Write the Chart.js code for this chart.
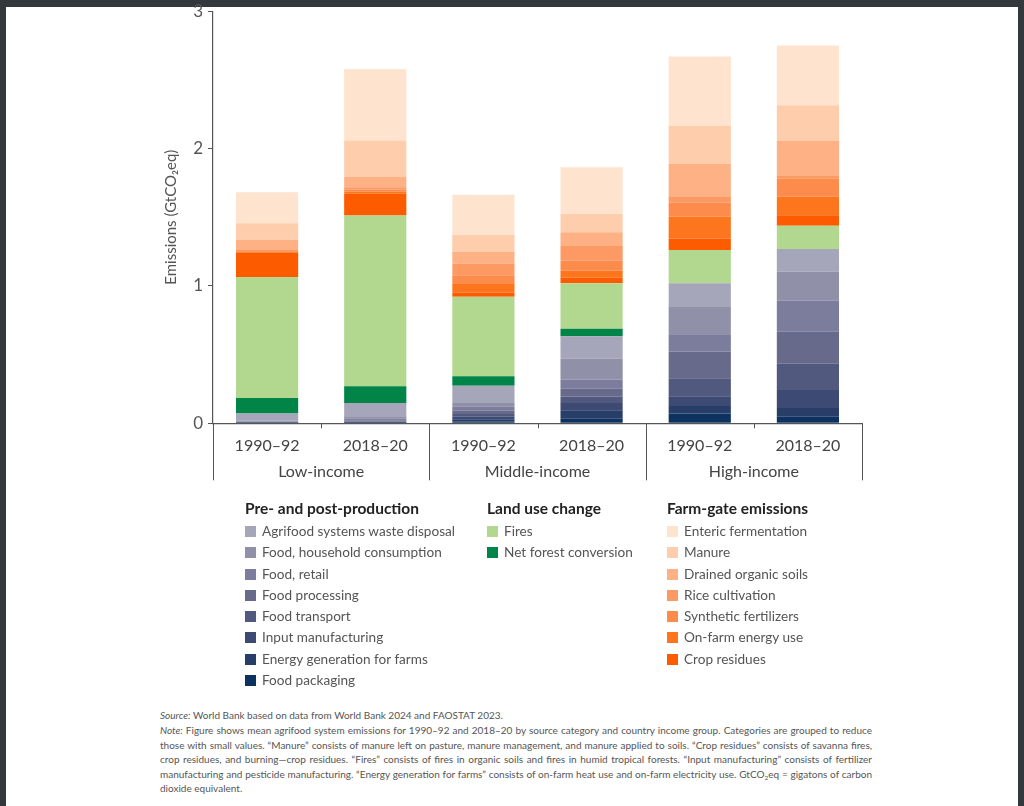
<!DOCTYPE html>
<html>
<head>
<meta charset="utf-8">
<script src="https://cdn.jsdelivr.net/npm/chart.js@4.4.1/dist/chart.umd.min.js"></script>
<style>
  html, body { margin: 0; padding: 0; }
  body { width: 1024px; height: 806px; background: #33383c; position: relative; overflow: hidden; font-family: "Lato", "Open Sans", sans-serif; }
  .page { position: absolute; left: 6px; top: 7px; width: 1012px; height: 799px; background: #fff; }
  #chartBox { position: absolute; left: 155px; top: -4px; width: 745px; height: 504px; }
  .legend-col { position: absolute; top: 497px; }
  .legend-col h4 { margin: 0 0 2px 0; font-size: 15.5px; font-weight: 700; color: #222; line-height: 22px; }
  .legend-item { height: 21.3px; line-height: 21.3px; font-size: 13.6px; color: #555; white-space: nowrap; }
  .legend-item span.sw { display: inline-block; width: 11px; height: 11px; margin-right: 6px; vertical-align: -1px; }
  .foot { position: absolute; left: 160px; width: 712px; font-size: 10px; line-height: 14.5px; color: #555; text-align: justify; }
  .foot sub { font-size: 6.5px; line-height: 0; vertical-align: -2px; }
</style>
</head>
<body>
<div class="page"></div>
<div id="chartBox"><canvas id="emChart"></canvas></div>
<div class="legend-col" id="legPre" style="left:245px"></div>
<div class="legend-col" id="legLand" style="left:487px"></div>
<div class="legend-col" id="legFarm" style="left:667px"></div>
<div class="foot" style="top:708px"><i>Source:</i> World Bank based on data from World Bank 2024 and FAOSTAT 2023.</div>
<div class="foot" style="top:723px"><i>Note:</i> Figure shows mean agrifood system emissions for 1990–92 and 2018–20 by source category and country income group. Categories are grouped to reduce those with small values. “Manure” consists of manure left on pasture, manure management, and manure applied to soils. “Crop residues” consists of savanna fires, crop residues, and burning—crop residues. “Fires” consists of fires in organic soils and fires in humid tropical forests. “Input manufacturing” consists of fertilizer manufacturing and pesticide manufacturing. “Energy generation for farms” consists of on-farm heat use and on-farm electricity use. GtCO<sub>2</sub>eq = gigatons of carbon dioxide equivalent.</div>

<script>
// 柱子：每个收入组两个时期
const periods = ["1990–92", "2018–20", "1990–92", "2018–20", "1990–92", "2018–20"];
const groups = ["Low-income", "Middle-income", "High-income"];
const yTicks = [0, 1, 2, 3];

// Pre- and post-production (GtCO2eq)
const wasteDisposal = [0.053, 0.095, 0.121, 0.162, 0.167, 0.164];
const householdConsumption = [0.004, 0.018, 0.033, 0.152, 0.21, 0.212];
const foodRetail = [0.003, 0.015, 0.029, 0.067, 0.119, 0.226];
const foodProcessing = [0.003, 0.005, 0.024, 0.057, 0.195, 0.233];
const foodTransport = [0.002, 0.004, 0.019, 0.048, 0.131, 0.19];
const inputManufacturing = [0.002, 0.004, 0.019, 0.052, 0.071, 0.131];
const energyGeneration = [0.002, 0.003, 0.017, 0.062, 0.055, 0.064];
const foodPackaging = [0.002, 0.003, 0.012, 0.033, 0.071, 0.048];

// Land use change
const fires = [0.88, 1.243, 0.579, 0.331, 0.243, 0.171];
const netForestConversion = [0.114, 0.122, 0.069, 0.055, 0, 0];

// Farm-gate emissions
const entericFermentation = [0.226, 0.519, 0.293, 0.338, 0.505, 0.436];
const manure = [0.119, 0.264, 0.121, 0.136, 0.279, 0.257];
const drainedOrganicSoils = [0.076, 0.076, 0.086, 0.1, 0.24, 0.257];
const riceCultivation = [0.006, 0.018, 0.086, 0.105, 0.04, 0.021];
const syntheticFertilizers = [0.007, 0.015, 0.057, 0.074, 0.102, 0.129];
const onFarmEnergy = [0.006, 0.014, 0.067, 0.052, 0.16, 0.136];
const cropResidues = [0.177, 0.159, 0.031, 0.04, 0.083, 0.076];

// 图例顺序（从上到下），堆叠时反过来
const prePost = [
  { label: "Agrifood systems waste disposal", data: wasteDisposal, color: "#a6a6ba" },
  { label: "Food, household consumption", data: householdConsumption, color: "#9090a8" },
  { label: "Food, retail", data: foodRetail, color: "#7c7c9c" },
  { label: "Food processing", data: foodProcessing, color: "#686a8c" },
  { label: "Food transport", data: foodTransport, color: "#51597e" },
  { label: "Input manufacturing", data: inputManufacturing, color: "#3d4a74" },
  { label: "Energy generation for farms", data: energyGeneration, color: "#283d68" },
  { label: "Food packaging", data: foodPackaging, color: "#0d3260" }
];
const landUse = [
  { label: "Fires", data: fires, color: "#b2d88f" },
  { label: "Net forest conversion", data: netForestConversion, color: "#008447" }
];
const farmGate = [
  { label: "Enteric fermentation", data: entericFermentation, color: "#fee3cf" },
  { label: "Manure", data: manure, color: "#fecdac" },
  { label: "Drained organic soils", data: drainedOrganicSoils, color: "#fdb185" },
  { label: "Rice cultivation", data: riceCultivation, color: "#fd9a63" },
  { label: "Synthetic fertilizers", data: syntheticFertilizers, color: "#fd8c4c" },
  { label: "On-farm energy use", data: onFarmEnergy, color: "#fd761d" },
  { label: "Crop residues", data: cropResidues, color: "#fd5b00" }
];

document.addEventListener("DOMContentLoaded", function () {
  buildLegend("legPre", "Pre- and post-production", prePost);
  buildLegend("legLand", "Land use change", landUse);
  buildLegend("legFarm", "Farm-gate emissions", farmGate);
  initChart();
});

function buildLegend(id, title, items) {
  const col = document.getElementById(id);
  let html = "<h4>" + title + "</h4>";
  items.forEach(function (s) {
    html += '<div class="legend-item"><span class="sw" style="background:' + s.color + '"></span>' + s.label + "</div>";
  });
  col.innerHTML = html;
}

// 分组分隔线和收入组标签
const groupPlugin = {
  id: "groupLabels",
  afterDraw: function (chart) {
    const ctx = chart.ctx;
    const area = chart.chartArea;
    const step = (area.right - area.left) / periods.length;
    ctx.save();
    ctx.strokeStyle = "#555";
    ctx.lineWidth = 1;
    for (let i = 0; i <= periods.length; i++) {
      const px = Math.round(area.left + i * step) + 0.5;
      const len = i % 2 === 0 ? 57 : 5;
      ctx.beginPath();
      ctx.moveTo(px, area.bottom);
      ctx.lineTo(px, area.bottom + len);
      ctx.stroke();
    }
    ctx.fillStyle = "#444";
    ctx.font = "16px Lato";
    ctx.textAlign = "center";
    ctx.textBaseline = "middle";
    groups.forEach(function (g, i) {
      ctx.fillText(g, area.left + (i * 2 + 1) * step, area.bottom + 49);
    });
    ctx.restore();
  }
};

function initChart() {
  const stackOrder = prePost.slice().reverse()
    .concat(landUse.slice().reverse())
    .concat(farmGate.slice().reverse());

  const datasets = stackOrder.map(function (s) {
    return {
      label: s.label,
      data: s.data,
      backgroundColor: s.color,
      borderWidth: 0,
      barPercentage: 0.575,
      categoryPercentage: 1
    };
  });

  new Chart(document.getElementById("emChart"), {
    type: "bar",
    data: { labels: periods, datasets: datasets },
    plugins: [groupPlugin],
    options: {
      responsive: true,
      maintainAspectRatio: false,
      animation: false,
      layout: { padding: { left: 0, right: 38, top: 0, bottom: 0 } },
      plugins: { legend: { display: false }, tooltip: { enabled: false } },
      scales: {
        x: {
          stacked: true,
          grid: { display: false },
          border: { display: true, color: "#555", width: 1.2 },
          ticks: { color: "#444", font: { family: "Lato", size: 16 }, padding: 5 },
          afterFit: function (scale) { scale.height = 76.7; }
        },
        y: {
          stacked: true,
          min: 0,
          max: 3,
          afterBuildTicks: function (scale) {
            scale.ticks = yTicks.map(function (v) { return { value: v }; });
          },
          grid: { drawOnChartArea: false, drawTicks: true, tickLength: 5, color: "#555" },
          border: { display: true, color: "#555", width: 1.2 },
          ticks: { color: "#555", font: { family: "Lato", size: 17 }, padding: 5 },
          title: {
            display: true,
            text: "Emissions (GtCO₂eq)",
            color: "#555",
            font: { family: "Lato", size: 15 },
            padding: { top: 7, bottom: 0 }
          },
          afterFit: function (scale) { scale.width = 58; }
        }
      }
    }
  });
}
</script>
</body>
</html>
